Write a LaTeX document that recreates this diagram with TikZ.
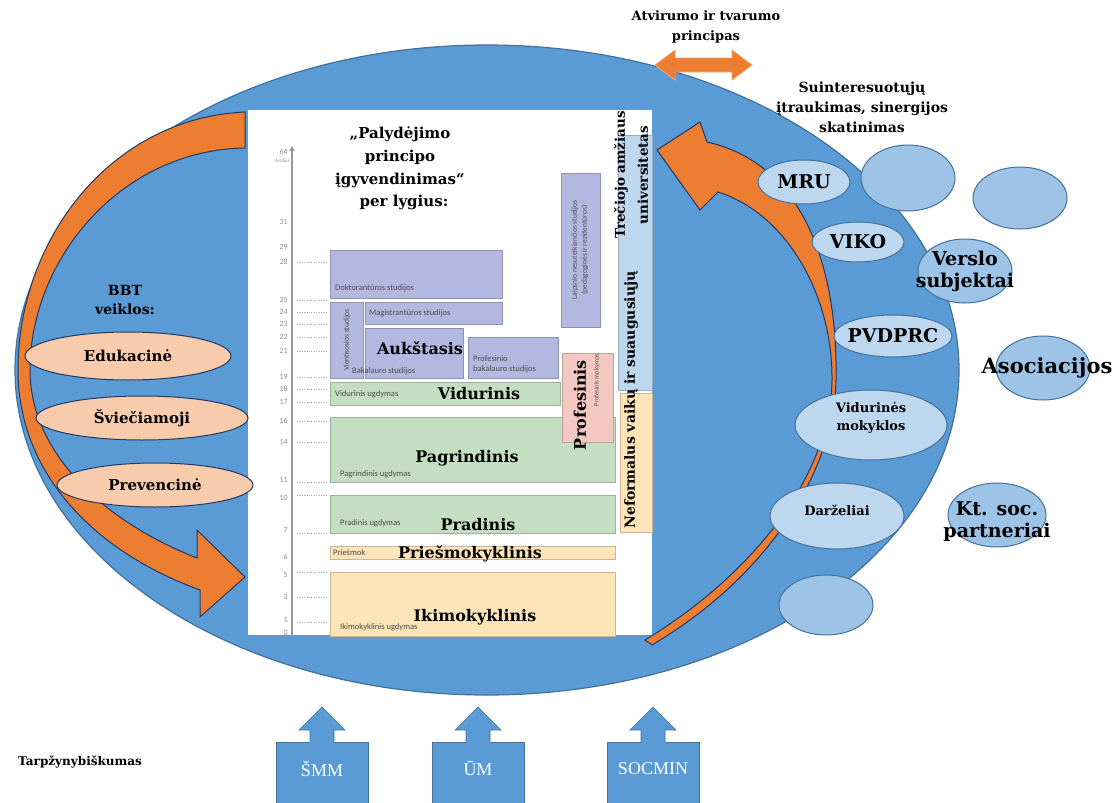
\documentclass[tikz,border=0pt]{standalone}
\usepackage{fontspec}
\setmainfont{DejaVu Serif}
\newfontfamily\chartfont{Carlito}
\newfontfamily\boxfont{Liberation Serif}
\usetikzlibrary{arrows.meta, positioning, shapes.geometric}

\definecolor{cellblue}{RGB}{91,155,213}
\definecolor{cellline}{RGB}{65,113,156}
\definecolor{arroworange}{RGB}{237,125,49}
\definecolor{navyline}{RGB}{32,56,100}
\definecolor{lav}{RGB}{178,184,224}
\definecolor{leaf}{RGB}{195,222,192}
\definecolor{rose}{RGB}{242,200,192}
\definecolor{sand}{RGB}{253,228,185}
\definecolor{sky}{RGB}{189,215,238}
\definecolor{peach}{RGB}{248,203,173}
\definecolor{partner}{RGB}{157,195,230}

\begin{document}
\begin{tikzpicture}[
    x=1pt, y=-1pt,
    lvlbox/.style={fill=#1, draw=#1!80!black, line width=0.5pt},
    head/.style={font=\bfseries\fontsize{16}{18}\selectfont, inner sep=0pt},
    small/.style={font=\chartfont\fontsize{8.5}{10}\selectfont, text=black!70, inner sep=0pt},
    tick/.style={font=\chartfont\fontsize{8}{9}\selectfont, text=black!45,
                 anchor=east, inner sep=0pt},
    actor/.style={ellipse, draw=cellline, fill=sky, line width=1pt, inner sep=0pt},
    partnerc/.style={ellipse, draw=cellline, fill=partner, line width=1pt, inner sep=0pt},
    activity/.style={ellipse, draw=navyline, fill=peach, line width=1pt, inner sep=0pt},
    bigtext/.style={font=\bfseries\fontsize{19}{22}\selectfont, align=center, inner sep=0pt},
    midtext/.style={font=\bfseries\fontsize{14}{19}\selectfont, align=center, inner sep=0pt},
    ministry/.style={draw=cellline, fill=cellblue, line width=0.6pt, text=white,
                     font=\boxfont\fontsize{18}{20}\selectfont}
  ]
  \useasboundingbox (0,0) rectangle (1112,803);

  % main ellipse
  \node[ellipse, draw=cellline, fill=cellblue, line width=1.2pt,
        minimum width=944pt, minimum height=650pt] (cell) at (487,370) {};

  % left curved arrow
  \filldraw[fill=arroworange, draw=navyline, line width=1pt]
    (245,112) .. controls (110,118) and (18,240) .. (18,370)
    .. controls (18,470) and (90,550) .. (200,590)
    -- (200,617) -- (245,577) -- (197,530) -- (197,558)
    .. controls (100,520) and (30,450) .. (30,370)
    .. controls (30,260) and (120,150) .. (245,148) -- cycle;

  % right curved arrow
  \filldraw[fill=arroworange, draw=navyline, line width=1pt]
    (707,142) .. controls (810,165) and (838,280) .. (836,380)
    .. controls (834,470) and (770,575) .. (652,645)
    -- (645,640)
    .. controls (760,570) and (831,470) .. (832,380)
    .. controls (833,300) and (790,215) .. (718,192)
    -- (700,210) -- (657,150) -- (700,122) -- cycle;

  % chart panel
  \node[fill=white, inner sep=0pt, minimum width=404pt, minimum height=525pt,
        anchor=north west] (panel) at (248,110) {};

  % age axis
  \draw[line width=1.6pt, black!40, -{Triangle[length=5pt, width=5pt]}]
    (292,636) -- (292,146);
  \foreach \v/\yy in {64/152, 31/222, 29/247, 28/262, 25/300, 24/312, 23/324,
                      22/337, 21/351, 19/377, 18/389, 17/402, 16/421, 14/442,
                      11/480, 10/498, 7/530, 6/557, 5/575, 3/597, 1/620, 0/633}
    \node[tick] (t\v) at (288,\yy) {\v};
  \node[tick, font=\chartfont\fontsize{5}{6}\selectfont] (age) at (290,161) {Amžius};
  \foreach \yy in {262, 300, 312, 324, 337, 351, 377, 389, 402, 421, 442,
                   482, 495, 533, 572, 597, 622}
    \draw[dotted, black!35] (297,\yy) -- (328,\yy);

  % levels
  \draw[lvlbox=sky]  (618,135) rectangle (652,390);
  \draw[lvlbox=sand] (620,393) rectangle (652,532);
  \draw[lvlbox=lav]  (330,250) rectangle (502,298);
  \draw[lvlbox=lav]  (330,302) rectangle (363,378);
  \draw[lvlbox=lav]  (365,302) rectangle (502,324);
  \draw[lvlbox=lav]  (365,328) rectangle (463,378);
  \draw[lvlbox=lav]  (468,337) rectangle (558,378);
  \draw[lvlbox=lav]  (561,173) rectangle (600,327);
  \draw[lvlbox=leaf] (330,382) rectangle (560,405);
  \draw[lvlbox=leaf] (330,417) rectangle (615,482);
  \draw[lvlbox=rose] (562,353) rectangle (613,442);
  \draw[lvlbox=leaf] (330,495) rectangle (615,533);
  \draw[lvlbox=sand] (330,546) rectangle (615,559);
  \draw[lvlbox=sand] (330,572) rectangle (615,636);

  \node[head, align=center, font=\bfseries\fontsize{15}{23}\selectfont]
    (title) at (400,157) {,,Palydėjimo\\principo\\įgyvendinimas“};
  \node[head, font=\bfseries\fontsize{15}{18}\selectfont] (perlyg) at (404,202) {per lygius:};

  \node[small, anchor=west] (dokt) at (335,288) {Doktorantūros studijos};
  \node[small, anchor=west] (magi) at (369,313) {Magistrantūros studijos};
  \node[small, rotate=90, font=\chartfont\fontsize{7.5}{9}\selectfont]
    (vient) at (347,340) {Vientisosios studijos};
  \node[head] (auks) at (420,348) {Aukštasis};
  \node[small, anchor=west] (baka) at (352,371) {Bakalauro studijos};
  \node[small, anchor=west, align=left] (profbak) at (473,364)
    {Profesinio\\bakalauro studijos};
  \node[small, rotate=90, align=center, font=\chartfont\fontsize{7.5}{10}\selectfont]
    (laips) at (580,250)
    {Laipsnio nesuteikiančios studijos\\(pedagoginės ir rezidentūros)};
  \node[small, anchor=west] (viduu) at (335,394) {Vidurinis ugdymas};
  \node[head] (vidu) at (479,394) {Vidurinis};
  \node[head, rotate=90] (prof) at (580,405) {Profesinis};
  \node[small, rotate=90, font=\chartfont\fontsize{6.5}{7}\selectfont] (profm) at (597,380)
    {Profesinis mokymas};
  \node[head] (pagr) at (467,458) {Pagrindinis};
  \node[small, anchor=west] (pagru) at (340,474) {Pagrindinis ugdymas};
  \node[small, anchor=west] (pradu) at (340,523) {Pradinis ugdymas};
  \node[head] (prad) at (478,525) {Pradinis};
  \node[small, anchor=west] (priesu) at (333,553) {Priešmok};
  \node[head] (pries) at (470,554) {Priešmokyklinis};
  \node[head] (ikim) at (475,617) {Ikimokyklinis};
  \node[small, anchor=west] (ikimu) at (340,627) {Ikimokyklinis ugdymas};
  \node[head, rotate=90, align=center, font=\bfseries\fontsize{13.5}{23}\selectfont]
    (trec) at (631,175) {Trečiojo amžiaus\\universitetas};
  \node[head, rotate=90, font=\bfseries\fontsize{14}{16}\selectfont]
    (nefo) at (631,400) {Neformalus vaikų ir suaugusiųjų};

  % activities
  \node[midtext] (bbt) at (125,300) {BBT\\veiklos:};
  \node[activity, minimum width=206pt, minimum height=48pt] (edu) at (128,356) {};
  \node[activity, minimum width=212pt, minimum height=44pt] (svie) at (142,418) {};
  \node[activity, minimum width=196pt, minimum height=44pt] (prev) at (155,485) {};
  \node[midtext, font=\bfseries\fontsize{15}{17}\selectfont] at (edu) {Edukacinė};
  \node[midtext, font=\bfseries\fontsize{15}{17}\selectfont] at (svie) {Šviečiamoji};
  \node[midtext, font=\bfseries\fontsize{15}{17}\selectfont] at (prev) {Prevencinė};

  % openness
  \filldraw[fill=arroworange, draw=arroworange!70!white, line width=0.8pt]
    (655,65) -- (675,50) -- (675,58) -- (732,58) -- (732,50) -- (752,65)
    -- (732,80) -- (732,72) -- (675,72) -- (675,80) -- cycle;
  \node[midtext, font=\bfseries\fontsize{13}{20}\selectfont] (open) at (706,27)
    {Atvirumo ir tvarumo\\principas};
  \node[midtext, font=\bfseries\fontsize{14}{20}\selectfont] (stake) at (862,107)
    {Suinteresuotųjų\\įtraukimas, sinergijos\\skatinimas};

  % partners
  \node[partnerc, minimum width=94pt, minimum height=66pt] (emptya) at (908,178) {};
  \node[partnerc, minimum width=94pt, minimum height=62pt] (emptyb) at (1020,198) {};
  \node[partnerc, minimum width=94pt, minimum height=64pt] (verslo) at (965,271) {};
  \node[partnerc, minimum width=94pt, minimum height=64pt] (asoc) at (1043,368) {};
  \node[partnerc, minimum width=98pt, minimum height=64pt] (ktsoc) at (997,515) {};
  \node[partnerc, minimum width=94pt, minimum height=60pt] (emptyc) at (826,605) {};
  \node[actor, minimum width=92pt, minimum height=44pt] (mru) at (804,182) {};
  \node[actor, minimum width=92pt, minimum height=40pt] (viko) at (858,242) {};
  \node[actor, minimum width=118pt, minimum height=42pt] (pvdprc) at (893,336) {};
  \node[actor, minimum width=152pt, minimum height=70pt] (vmok) at (871,425) {};
  \node[actor, minimum width=134pt, minimum height=66pt] (darz) at (837,516) {};
  \node[bigtext] at (mru) {MRU};
  \node[bigtext] at (viko) {VIKO};
  \node[bigtext] at (verslo) {Verslo\\subjektai};
  \node[bigtext] at (pvdprc) {PVDPRC};
  \node[bigtext, font=\bfseries\fontsize{21}{22}\selectfont, xshift=4pt] at (asoc) {Asociacijos};
  \node[bigtext, yshift=-7pt] at (ktsoc) {Kt. soc.\\partneriai};
  \node[midtext, font=\bfseries\fontsize{13}{18}\selectfont, yshift=7pt] at (vmok)
    {Vidurinės\\mokyklos};
  \node[midtext, font=\bfseries\fontsize{13}{15}\selectfont, yshift=6pt] at (darz)
    {Darželiai};

  % ministries
  \node[midtext, font=\bfseries\fontsize{12}{14}\selectfont] (tarp) at (80,762)
    {Tarpžynybiškumas};
  \foreach \m/\x/\t in {smm/322/ŠMM, um/478/ŪM, socmin/653/SOCMIN} {
    \node[ministry, minimum width=92pt, minimum height=66pt, anchor=north,
          text depth=14pt] (\m) at (\x,742) {\t};
    \fill[cellblue] (\m.north) ++(-12,1) -- ++(0,-13) -- ++(-11,0) -- ++(23,-23)
      -- ++(23,23) -- ++(-11,0) -- ++(0,13) -- cycle;
    \draw[cellline, line width=0.6pt] (\m.north) ++(-12,0) -- ++(0,-12) -- ++(-11,0)
      -- ++(23,-23) -- ++(23,23) -- ++(-11,0) -- ++(0,12);
  }
\end{tikzpicture}
\end{document}
